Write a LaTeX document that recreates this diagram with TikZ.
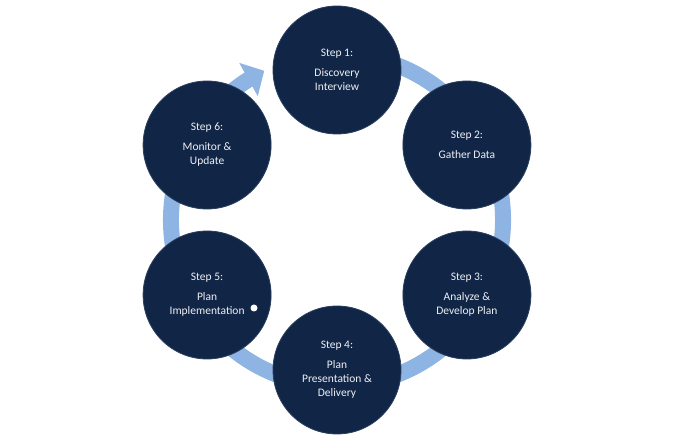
\documentclass[tikz,border=0pt]{standalone}
\usepackage{fontspec}
\setmainfont{Carlito}
\usetikzlibrary{arrows.meta,bending,calc}
\definecolor{navy}{HTML}{112646}
\definecolor{rimc}{HTML}{2A3F60}
\definecolor{ringc}{HTML}{8DB4E2}
\definecolor{txtc}{HTML}{EEEFF2}
\tikzset{
  stepcircle/.style={circle, fill=navy, draw=rimc, line width=0.8pt, minimum size=128pt, inner sep=0pt,
    text=txtc, align=center, font=\fontsize{11.5}{14}\selectfont},
  ringline/.style={draw=ringc, line width=16pt},
}
\begin{document}
\begin{tikzpicture}[x=1pt,y=1pt]
\useasboundingbox (0,0) rectangle (694,439);
\coordinate (ctr) at (337,219);
% ring with arrow
\draw[ringline, -{Triangle[width=37pt,length=18pt,flex]}]
  ($(ctr)+(75:166)$) arc[start angle=75, end angle=-244, radius=166];
\node[stepcircle] (s1) at ($(ctr)+(90:150)$) {Step 1:\\[6pt]Discovery\\Interview};
\node[stepcircle] (s2) at ($(ctr)+(30:150)$) {Step 2:\\[6pt]Gather Data};
\node[stepcircle] (s3) at ($(ctr)+(-30:150)$) {Step 3:\\[6pt]Analyze \&\\Develop Plan};
\node[stepcircle] (s4) at ($(ctr)+(-90:150)$) {Step 4:\\[6pt]Plan\\Presentation \&\\Delivery};
\node[stepcircle] (s5) at ($(ctr)+(-150:150)$) {Step 5:\\[6pt]Plan\\Implementation};
\node[stepcircle] (s6) at ($(ctr)+(150:150)$) {Step 6:\\[6pt]Monitor \&\\Update};
\node[circle, fill=white, inner sep=0pt, minimum size=7pt] (dot) at (254,131) {};
\end{tikzpicture}
\end{document}
